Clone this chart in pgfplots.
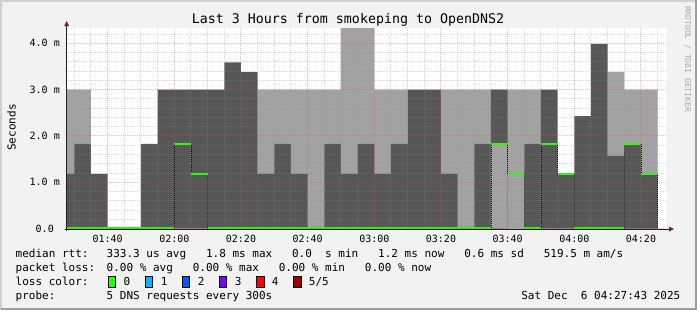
\documentclass[border=0pt]{standalone}
\usepackage{pgfplots}
\pgfplotsset{compat=1.18}
\usepackage{pgfplotstable}
\usepackage{fontspec}
\newfontfamily\mono{DejaVu Sans Mono}
\definecolor{bg}{HTML}{F2F2F2}
\definecolor{shadeA}{HTML}{CFCFCF}
\definecolor{shadeB}{HTML}{9E9E9E}
\definecolor{smokedark}{HTML}{575757}
\definecolor{smokelight}{HTML}{A2A2A2}
\definecolor{gridc}{HTML}{8F8F8F}
\definecolor{mgridc}{HTML}{DE5050}
\definecolor{arrowc}{HTML}{801F1F}
\definecolor{axisc}{HTML}{1F1F1F}
\definecolor{lc0}{HTML}{26FF00}
\definecolor{lc1}{HTML}{00B8FF}
\definecolor{lc2}{HTML}{0059FF}
\definecolor{lc3}{HTML}{7E00FF}
\definecolor{lc4}{HTML}{FF0000}
\definecolor{lc5}{HTML}{A10000}
\definecolor{wm}{HTML}{A8A8A8}
\newcommand\legfont{\mono\fontsize{11bp}{13bp}\selectfont}
\newcommand\tickfont{\mono\fontsize{10bp}{12bp}\selectfont}
\newcommand\titlefont{\mono\fontsize{13.3bp}{15bp}\selectfont}
\newcommand\wmfont{\mono\fontsize{8bp}{9bp}\selectfont}

\pgfplotstableread{
t light dark light2 med
87.72 3.0 1.18 0 0
90 3.0 1.83 0 0
95 0 1.18 0 0
100 0 0 0 0
105 0 0 0 0
110 0 1.83 0 0
115 0 3.0 0 0
120 0 3.0 0 1.83
125 0 3.0 0 1.18
130 0 3.0 0 0
135 0 3.59 0 0
140 0 3.38 0 0
145 3.0 1.18 0 0
150 3.0 1.83 0 0
155 3.0 1.18 0 0
160 3.0 0 0 0
165 3.0 1.83 0 0
170 4.5 1.18 0 0
175 4.5 1.83 0 0
180 3.0 1.18 0 0
185 3.0 1.83 0 0
190 0 3.0 0 0
195 0 3.0 0 0
200 3.0 1.18 0 0
205 3.0 0 0 0
210 3.0 1.83 0 0
215 3.0 3.0 1.83 1.83
220 3.0 0 0 1.18
225 3.0 1.83 0 0
230 0 3.0 0 1.83
235 0 1.18 0 1.18
240 0 2.43 0 0
245 0 3.99 0 0
250 3.38 1.57 0 0
255 3.0 1.83 0 1.83
260 3.0 1.18 0 1.18
265 0 0 0 0
}\data

\begin{document}
\begin{tikzpicture}[x=1bp,y=1bp]
\fill[bg] (0,0) rectangle (697,310);
\useasboundingbox (0,0) rectangle (697,310);
\draw[shadeA, line width=2bp] (1,0) -- (1,309) -- (697,309);
\draw[shadeB, line width=2bp] (1,1) -- (696,1) -- (696,310);

\begin{axis}[
  at={(66.7bp,81.4bp)}, anchor=south west,
  scale only axis, width=600bp, height=200.6bp,
  xmin=87.72, xmax=267.72, ymin=0, ymax=4.33,
  axis on top,
  axis line style={draw=none},
  axis background/.style={fill=white},
  no markers,
  xtick={100,120,140,160,180,200,220,240,260},
  xticklabels={01:40,02:00,02:20,02:40,03:00,03:20,03:40,04:00,04:20},
  minor xtick={90,95,105,110,115,125,130,135,145,150,155,165,170,175,185,190,195,205,210,215,225,230,235,245,250,255,265},
  ytick={0,1,2,3,4},
  yticklabels={0.0~~,1.0~m,2.0~m,3.0~m,4.0~m},
  minor ytick={0.2,0.4,0.6,0.8,1.2,1.4,1.6,1.8,2.2,2.4,2.6,2.8,3.2,3.4,3.6,3.8,4.2},
  grid=both,
  major grid style={mgridc, opacity=0.42, line width=1bp, dash pattern=on 1bp off 1bp},
  minor grid style={gridc, opacity=0.35, line width=1bp, dash pattern=on 1bp off 1bp},
  major tick length=0pt, minor tick length=0pt,
  tick label style={font=\tickfont, inner sep=0pt},
  xticklabel style={anchor=north, yshift=-6.4bp},
  yticklabel style={anchor=east, xshift=-6.7bp},
]
\addplot[const plot mark left, fill=smokelight, draw=none] table[x=t,y=light]{\data} \closedcycle;
\addplot[const plot mark left, fill=smokedark, draw=none] table[x=t,y=dark]{\data} \closedcycle;
\addplot[const plot mark left, fill=smokelight, draw=none] table[x=t,y=light2]{\data} \closedcycle;
\addplot[const plot mark left, black, line width=0.8bp, dash pattern=on 1bp off 1bp] table[x=t,y=med]{\data};
\addplot[jump mark left, lc0, line width=2.4bp] table[x=t,y=med]{\data};
\end{axis}

% axes with arrows
\draw[axisc, line width=1bp] (66.7,79.4) -- (66.7,285);
\fill[arrowc] (64.2,284) -- (69.2,284) -- (66.7,289) -- cycle;
\draw[axisc, line width=1bp] (64.7,80.9) -- (670,80.9);
\fill[arrowc] (669,78.4) -- (669,83.4) -- (674,80.9) -- cycle;

% title, unit label, watermark
\node[anchor=base, inner sep=0, font=\titlefont] at (348,286.5) {Last 3 Hours from smokeping to OpenDNS2};
\node[rotate=90, anchor=base, inner sep=0, font=\legfont] at (15.5,182.5) {Seconds};
\node[rotate=-90, anchor=base, inner sep=0, font=\wmfont, text=wm] at (685,251) {RRDTOOL / TOBI OETIKER};

% legend
\begin{scope}[every node/.style={anchor=base west, inner sep=0, font=\legfont}]
\node at (15.5,52.7) {median rtt:};
\node at (106.5,52.7) {333.3~us~avg~~~1.8~ms~max~~~0.0~~s~min~~~1.2~ms~now~~~0.6~ms~sd~~~519.5~m~am/s};
\node at (15.5,38.7) {packet loss:};
\node at (106.5,38.7) {0.00~\%~avg~~~0.00~\%~max~~~0.00~\%~min~~~0.00~\%~now};
\node at (15.5,24.7) {loss color:};
\node at (15.5,10.7) {probe:};
\node at (106.5,10.7) {5 DNS requests every 300s};
\node[anchor=base east] at (680.5,10.7) {Sat~Dec~~6~04:27:43~2025};
\foreach \c/\l [count=\i from 0] in {lc0/0,lc1/1,lc2/2,lc3/3,lc4/4,lc5/5\slash5}{
  \pgfmathsetmacro\bx{108.3+37.05*\i}
  \filldraw[fill=\c, draw=black, line width=0.8bp] (\bx,22.9) rectangle ++(7.4,10.4);
  \node at (\bx+15.2,24.7) {\l};
}
\end{scope}
\end{tikzpicture}
\end{document}
